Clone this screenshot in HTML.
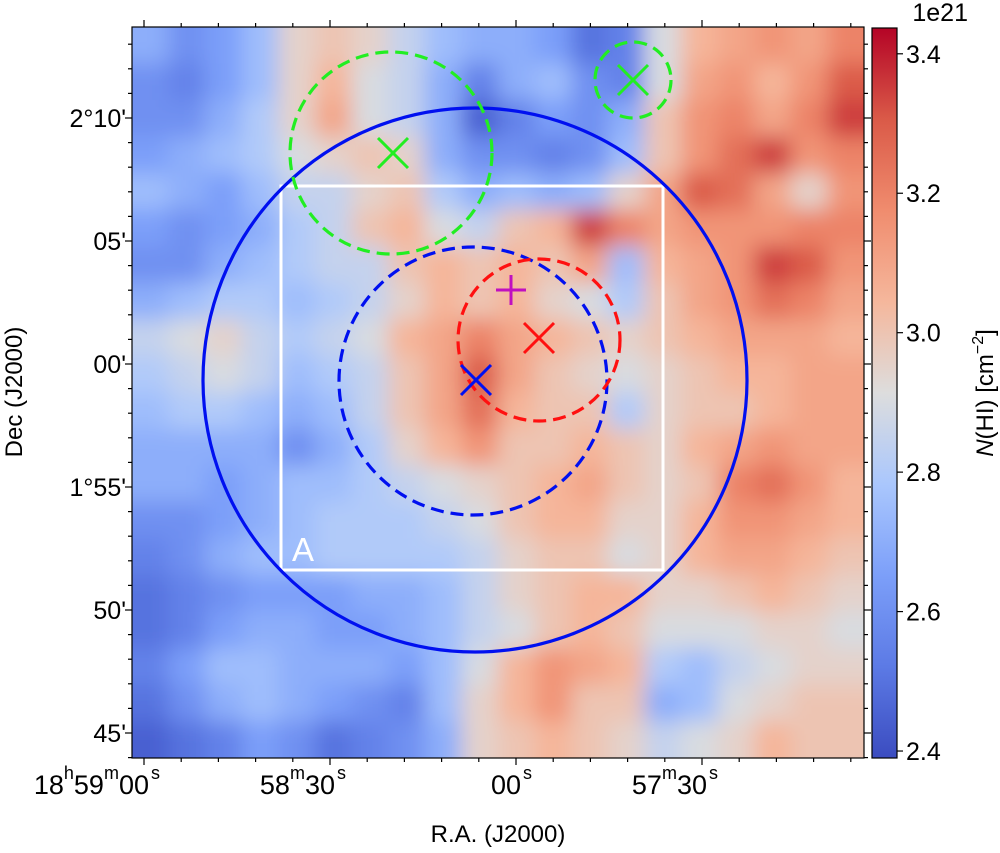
<!DOCTYPE html>
<html><head><meta charset="utf-8"><style>
html,body{margin:0;padding:0;background:#fff;}
svg{display:block;font-family:"Liberation Sans",sans-serif;}
</style></head><body>
<svg id="fig" width="1000" height="853" viewBox="0 0 1000 853">
<defs>
<clipPath id="pc"><rect x="132" y="27" width="732" height="731"/></clipPath>
<filter id="bl" x="-5%" y="-5%" width="110%" height="110%"><feGaussianBlur stdDeviation="11"/></filter>
<linearGradient id="cbg" x1="0" y1="1" x2="0" y2="0"></linearGradient>
</defs>
<g id="heat" clip-path="url(#pc)"><g id="cells" filter="url(#bl)"></g></g>
<g id="overlay" clip-path="url(#pc)"></g>
<rect x="132" y="27" width="732" height="731" fill="none" stroke="#000" stroke-width="1.2"/>
<g id="axes"></g>
<rect x="872" y="28" width="25" height="730" fill="url(#cbg)" stroke="#000" stroke-width="1.2"/>
<g id="cbaxis"></g>
<text x="968" y="21" font-size="25" text-anchor="end">1e21</text>
<text transform="translate(993,393) rotate(-90)" font-size="24" text-anchor="middle"><tspan font-style="italic">N</tspan>(HI) [cm<tspan font-size="16" dy="-10">−2</tspan><tspan dy="10">]</tspan></text>
<text transform="translate(22,392) rotate(-90)" font-size="24" text-anchor="middle">Dec (J2000)</text>
<text x="498" y="842" font-size="24" text-anchor="middle">R.A. (J2000)</text>
</svg>
<script>
const vmin = 2.39, vmax = 3.437;
const gridValues = [
[2.7,2.6,2.65,2.75,2.95,3.0,2.95,2.85,2.75,2.7,2.7,2.65,2.5,2.55,2.9,3.05,3.1,3.15,3.1,3.2],
[2.6,2.55,2.65,2.75,2.95,3.05,2.9,2.85,2.7,2.55,2.7,2.75,2.6,2.55,2.9,3.1,3.15,3.05,3.15,3.3],
[2.6,2.6,2.7,2.8,2.95,3.1,2.9,2.85,2.7,2.45,2.55,2.65,2.6,2.7,3.0,3.15,3.2,3.1,3.2,3.35],
[2.65,2.7,2.75,2.8,2.9,2.95,3.0,2.95,2.7,2.6,2.6,2.55,2.6,2.75,3.0,3.15,3.25,3.35,3.15,3.2],
[2.75,2.7,2.65,2.75,2.85,2.85,2.95,3.0,2.8,2.7,2.75,2.7,2.75,2.95,3.1,3.3,3.25,3.1,2.95,3.15],
[2.65,2.6,2.65,2.7,2.8,2.85,3.0,3.05,2.9,2.85,3.0,3.05,3.35,3.2,3.1,3.15,3.15,3.15,3.2,3.2],
[2.6,2.6,2.7,2.75,2.8,2.85,2.85,3.0,3.05,3.0,3.05,3.0,3.1,2.75,3.05,3.1,3.15,3.35,3.3,3.15],
[2.7,2.75,2.8,2.8,2.75,2.8,2.85,2.95,3.05,3.0,3.05,2.95,2.9,2.8,3.0,3.1,3.15,3.25,3.2,3.1],
[2.85,2.9,2.95,2.85,2.8,2.85,2.9,3.05,3.1,3.2,3.1,3.05,3.0,2.95,3.0,3.05,3.1,3.1,3.1,3.05],
[2.8,2.85,2.9,2.85,2.75,2.8,2.85,3.0,3.1,3.3,3.1,3.0,2.95,2.9,2.95,3.0,3.05,3.05,3.1,3.1],
[2.75,2.8,2.8,2.75,2.7,2.75,2.85,3.0,3.1,3.25,3.05,3.0,3.0,2.8,2.95,3.0,3.0,3.05,3.1,3.1],
[2.7,2.7,2.7,2.7,2.6,2.7,2.8,2.95,3.05,3.15,3.0,3.0,3.05,3.0,2.95,3.05,3.1,3.15,3.1,3.1],
[2.7,2.7,2.65,2.7,2.75,2.75,2.8,2.85,2.9,2.95,3.0,3.05,3.1,3.0,2.95,3.0,3.2,3.25,3.15,3.05],
[2.6,2.6,2.65,2.7,2.75,2.8,2.8,2.8,2.85,2.9,3.0,3.05,3.05,2.95,2.95,3.05,3.15,3.15,3.1,3.05],
[2.55,2.6,2.7,2.75,2.75,2.8,2.8,2.8,2.8,2.85,2.95,3.0,3.0,2.9,2.95,3.05,3.1,3.1,3.05,3.0],
[2.5,2.55,2.6,2.65,2.65,2.65,2.7,2.7,2.75,2.85,2.95,3.0,3.05,3.05,2.95,2.95,3.0,3.05,3.0,2.95],
[2.5,2.55,2.65,2.7,2.7,2.65,2.65,2.7,2.75,2.85,2.9,3.0,3.05,3.0,2.9,2.9,2.9,2.95,2.95,2.9],
[2.55,2.65,2.75,2.75,2.7,2.7,2.7,2.65,2.75,2.9,3.05,3.15,3.1,3.05,2.8,2.75,2.85,2.9,2.95,2.95],
[2.5,2.6,2.7,2.75,2.7,2.65,2.6,2.55,2.75,2.95,3.05,3.15,3.0,3.0,2.7,2.75,2.9,2.95,3.0,3.0],
[2.45,2.5,2.55,2.65,2.6,2.5,2.55,2.6,2.7,2.95,3.0,3.05,3.0,2.95,2.85,2.9,2.95,3.05,3.0,3.0]
];
const cbTicks = [2.4,2.6,2.8,3.0,3.2,3.4];
const cbTickLabels = ["2.4","2.6","2.8","3.0","3.2","3.4"];
const raMajor = [0,1,2,3];
const raLabels = [["18","h","59","m","00"],["58","m","30"],["00"],["57","m","30"]];
const decMajor = [0,1,2,3,4,5];
const decLabels = ["2°10'","05'","00'","1°55'","50'","45'"];

const NS="http://www.w3.org/2000/svg";
function mk(tag,attrs,parent){const e=document.createElementNS(NS,tag);for(const k in attrs)e.setAttribute(k,attrs[k]);parent.appendChild(e);return e;}
const stops=[[0,[59,76,192]],[0.125,[92,122,229]],[0.25,[124,159,249]],[0.375,[170,199,253]],[0.5,[221,221,221]],[0.625,[245,183,156]],[0.75,[240,140,110]],[0.875,[218,90,72]],[1,[180,4,38]]];
function cmap(t){t=Math.max(0,Math.min(1,t));for(let i=1;i<stops.length;i++){if(t<=stops[i][0]){const a=stops[i-1],b=stops[i];const f=(t-a[0])/(b[0]-a[0]);return 'rgb('+a[1].map((c,j)=>Math.round(c+(b[1][j]-c)*f)).join(',')+')';}}return 'rgb(180,4,38)';}
const X0=132,Y0=27,W=732,H=731;
const nR=gridValues.length,nC=gridValues[0].length;
const cw=W/nC,ch=H/nR;
const cells=document.getElementById('cells');
for(let r=0;r<nR;r++)for(let c=0;c<nC;c++){
  const x=X0+c*cw-(c===0?30:0), y=Y0+r*ch-(r===0?30:0);
  const w=cw+1+(c===0||c===nC-1?30:0), h=ch+1+(r===0||r===nR-1?30:0);
  const e=mk('rect',{x:x,y:y,width:w,height:h,fill:cmap((gridValues[r][c]-vmin)/(vmax-vmin))},cells);
  
  
}
const g=document.getElementById('cbg');
for(const s of stops){mk('stop',{offset:s[0],'stop-color':'rgb('+s[1].join(',')+')'},g);}
const cba=document.getElementById('cbaxis');
function cbY(v){return 758-(v-vmin)/(vmax-vmin)*730;}
cbTicks.forEach((v,i)=>{
  const y=cbY(v);
  const t=mk('line',{x1:897,x2:903,y1:y,y2:y,stroke:'#000','stroke-width':1.2},cba);
  
  
  const l=mk('text',{x:906,y:y+9,'font-size':25},cba);l.textContent=cbTickLabels[i];
  
  
});
const ax=document.getElementById('axes');
function raX(k){return 144+k*186;}
function decY(k){return 118+k*123;}
for(let m=-3;m<=20;m++){const x=raX(m/5);if(x<=X0||x>=X0+W)continue;const L=(m%5===0)?7:4;
  const a=mk('line',{x1:x,x2:x,y1:758,y2:758+L,stroke:'#000','stroke-width':1.2},ax);
  const b=mk('line',{x1:x,x2:x,y1:27,y2:27-L,stroke:'#000','stroke-width':1.2},ax);}
for(let m=-5;m<=30;m++){const y=decY(m/5);if(y<=Y0||y>=Y0+H)continue;const L=(m%5===0)?7:4;
  const a=mk('line',{x1:132,x2:132-L,y1:y,y2:y,stroke:'#000','stroke-width':1.2},ax);
  const b=mk('line',{x1:864,x2:864+L,y1:y,y2:y,stroke:'#000','stroke-width':1.2},ax);}
raMajor.forEach((k,i)=>{
  const parts=raLabels[i];
  const t=mk('text',{x:raX(k)+5,y:794,'font-size':27,'text-anchor':'end'},ax);
  
  
  for(let j=0;j<parts.length;j++){const sup=(j%2===1);const s=mk('tspan',sup?{'font-size':18,dy:-15}:(j>0?{dy:15}:{}),t);s.textContent=parts[j];}
  const s=mk('text',{x:raX(k)+7,y:779,'font-size':18},ax);s.textContent='s';
  
  
});
decMajor.forEach((k,i)=>{
  const t=mk('text',{x:126,y:decY(k)+9,'font-size':25,'text-anchor':'end'},ax);t.textContent=decLabels[i];
  
  
});
const ov=document.getElementById('overlay');
function circ(cx,cy,r,col,dash,name){const e=mk('circle',{cx:cx,cy:cy,r:r,fill:'none',stroke:col,'stroke-width':3.2},ov);if(dash)e.setAttribute('stroke-dasharray','13 7');}
function cross(cx,cy,col,name){const s=15;const g2=mk('g',{stroke:col,'stroke-width':3},ov);mk('line',{x1:cx-s,y1:cy-s,x2:cx+s,y2:cy+s},g2);mk('line',{x1:cx-s,y1:cy+s,x2:cx+s,y2:cy-s},g2);}
const bx=mk('rect',{x:281,y:186,width:382,height:384,fill:'none',stroke:'#fff','stroke-width':3},ov);


const ta=mk('text',{x:292,y:561,'font-size':33,fill:'#fff'},ov);ta.textContent='A';


circ(475,380,272,'#0010f0',false,'large-blue-circle');
circ(473,381,134,'#0010f0',true,'blue-dashed-circle');
circ(539,340,81,'#ff1010',true,'red-dashed-circle');
circ(391,153,101,'#22ee22',true,'green-dashed-circle-large');
circ(633,80,38,'#22ee22',true,'green-dashed-circle-small');
cross(393,153,'#22ee22','green-cross-1');
cross(633,80,'#22ee22','green-cross-2');
cross(539,338,'#ff1010','red-cross');
cross(476,380,'#0010f0','blue-cross');
const p=mk('g',{stroke:'#c010c0','stroke-width':3},ov);
mk('line',{x1:496,y1:290,x2:526,y2:290},p);mk('line',{x1:511,y1:275,x2:511,y2:305},p);
</script>
</body></html>
